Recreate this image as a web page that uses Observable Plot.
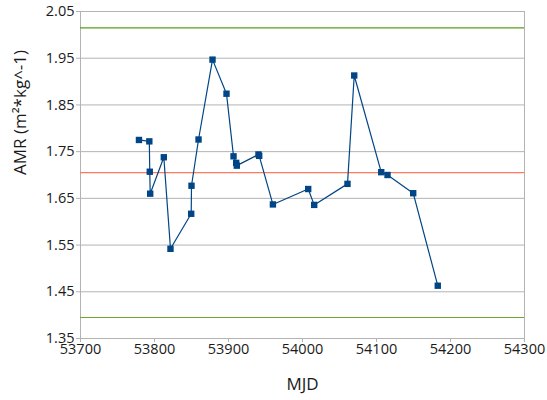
<!DOCTYPE html>
<html><head><meta charset="utf-8">
<script src="https://cdn.jsdelivr.net/npm/d3@7"></script>
<script src="https://cdn.jsdelivr.net/npm/@observablehq/plot@0.6"></script>
<style>body{margin:0;background:#fff} #chart svg{font-family:"Open Sans",sans-serif}</style>
</head><body><div id="chart"></div>
<script>
const mjd = [53779, 53793, 53793.6, 53794.2, 53812.6, 53821.6, 53849.6, 53850, 53859.5, 53878.4, 53897.3, 53906.8, 53910.4, 53911.2, 53940.5, 53941.5, 53960, 54007.7, 54015.8, 54060.8, 54069.9, 54106.4, 54114.9, 54149.6, 54182.8];
const amr = [1.775, 1.772, 1.707, 1.660, 1.738, 1.542, 1.617, 1.677, 1.776, 1.947, 1.874, 1.740, 1.726, 1.720, 1.744, 1.741, 1.637, 1.670, 1.636, 1.681, 1.913, 1.706, 1.700, 1.661, 1.463];
const upperLimit = [2.015];
const meanLine = [1.705];
const lowerLimit = [1.395];
const xTicks = [53700, 53800, 53900, 54000, 54100, 54200, 54300];
const yTicks = [1.35, 1.45, 1.55, 1.65, 1.75, 1.85, 1.95, 2.05];
const xTitle = "MJD";
const yTitle = "AMR (m²*kg^-1)";

const data = mjd.map((x, i) => ({x, y: amr[i]}));

const plot = Plot.plot({
  width: 547, height: 400,
  marginLeft: 80, marginRight: 23, marginTop: 11, marginBottom: 62,
  style: {fontFamily: "Open Sans", fontSize: "14.5px", color: "#1a1a1a", background: "#fff"},
  x: {domain: [53700, 54300]},
  y: {domain: [1.35, 2.05]},
  marks: [
    Plot.ruleY(yTicks, {stroke: "#b3b3b3", strokeWidth: 1}),
    Plot.frame({stroke: "#b3b3b3"}),
    Plot.ruleY(upperLimit, {stroke: "#579d1c", strokeWidth: 1.2}),
    Plot.ruleY(lowerLimit, {stroke: "#6aa832", strokeWidth: 1.2}),
    Plot.ruleY(meanLine, {stroke: "#ff7a5c", strokeWidth: 1.4}),
    Plot.line(data, {x: "x", y: "y", stroke: "#004586", strokeWidth: 1.2}),
    Plot.dot(data, {x: "x", y: "y", symbol: "square", r: 3.6, fill: "#004586", stroke: "none"}),
    Plot.axisX({ticks: xTicks, tickFormat: d => String(d), tickSize: 4, tickPadding: 1, stroke: "#b3b3b3", label: null}),
    Plot.axisY({ticks: yTicks, tickFormat: d => d.toFixed(2), tickSize: 4, tickPadding: 2, stroke: "#b3b3b3", label: null}),
    Plot.text([xTitle], {frameAnchor: "bottom", dy: 51, fontSize: 17, fill: "#1a1a1a"}),
    Plot.text([yTitle], {frameAnchor: "left", dx: -60, rotate: -90, fontSize: 17, fill: "#1a1a1a"})
  ]
});
document.getElementById("chart").appendChild(plot);
</script></body></html>
